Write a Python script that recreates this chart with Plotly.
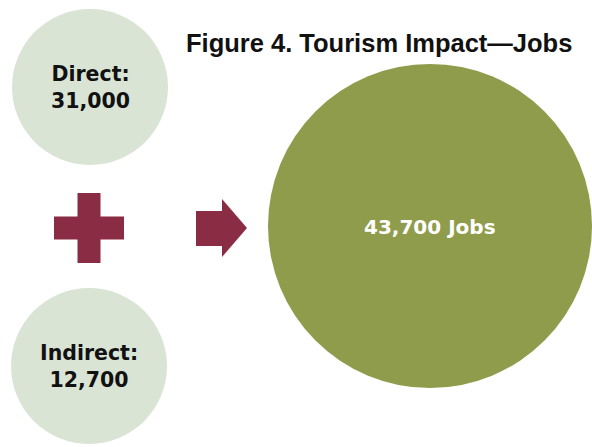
import plotly.graph_objects as go

# ---- data ----
labels = ["Direct:", "Indirect:"]
values = [31000, 12700]
total_label = "Jobs"
total = sum(values)  # 43,700
title = "Figure 4. Tourism Impact\u2014Jobs"

# ---- layout (pixel positions) ----
W, H = 592, 447
small_centers = [(90, 87), (89, 366)]
small_r = 78
big_center = (430, 226)
big_r = 162
small_col = "#d9e4d5"
big_col = "#8f9c4b"
maroon = "#8a2c43"
heavy = "DejaVu Sans, sans-serif"
narrow = "Liberation Sans, Arial, sans-serif"

fig = go.Figure()
shapes = []
annotations = []

for (cx, cy), lab, v in zip(small_centers, labels, values):
    shapes.append(dict(type="circle", xref="x", yref="y",
                       x0=cx - small_r, x1=cx + small_r, y0=cy - small_r, y1=cy + small_r,
                       fillcolor=small_col, line=dict(width=0), layer="below"))
    annotations.append(dict(x=cx, y=cy, xref="x", yref="y",
                            text=f"<b>{lab}<br>{v:,}</b>", showarrow=False,
                            font=dict(family=heavy, size=20.5, color="#111111"),
                            align="center"))

bx, by = big_center
shapes.append(dict(type="circle", xref="x", yref="y",
                   x0=bx - big_r, x1=bx + big_r, y0=by - big_r, y1=by + big_r,
                   fillcolor=big_col, line=dict(width=0), layer="below"))
annotations.append(dict(x=bx, y=by + 1, xref="x", yref="y",
                        text=f"<b>{total:,} {total_label}</b>", showarrow=False,
                        font=dict(family=heavy, size=20, color="white")))

# plus sign
pcx, pcy, arm, hw = 89, 228, 35, 11.5
plus_path = (f"M{pcx-hw},{pcy-arm} L{pcx+hw},{pcy-arm} L{pcx+hw},{pcy-hw} L{pcx+arm},{pcy-hw} "
             f"L{pcx+arm},{pcy+hw} L{pcx+hw},{pcy+hw} L{pcx+hw},{pcy+arm} L{pcx-hw},{pcy+arm} "
             f"L{pcx-hw},{pcy+hw} L{pcx-arm},{pcy+hw} L{pcx-arm},{pcy-hw} L{pcx-hw},{pcy-hw} Z")
shapes.append(dict(type="path", xref="x", yref="y", path=plus_path,
                   fillcolor=maroon, line=dict(width=0)))

# arrow
arrow_path = "M196,211 L222,211 L222,199 L247,228 L222,257 L222,246 L196,246 Z"
shapes.append(dict(type="path", xref="x", yref="y", path=arrow_path,
                   fillcolor=maroon, line=dict(width=0)))

# title
annotations.append(dict(x=379, y=43, xref="x", yref="y", text=f"<b>{title}</b>",
                        showarrow=False,
                        font=dict(family=narrow, size=25.5, color="#111111")))

fig.update_layout(
    width=W, height=H,
    margin=dict(l=0, r=0, t=0, b=0),
    paper_bgcolor="white", plot_bgcolor="white",
    shapes=shapes, annotations=annotations,
    xaxis=dict(range=[0, W], visible=False, fixedrange=True),
    yaxis=dict(range=[H, 0], visible=False, fixedrange=True),
    showlegend=False,
)

fig.write_html("out.html")
